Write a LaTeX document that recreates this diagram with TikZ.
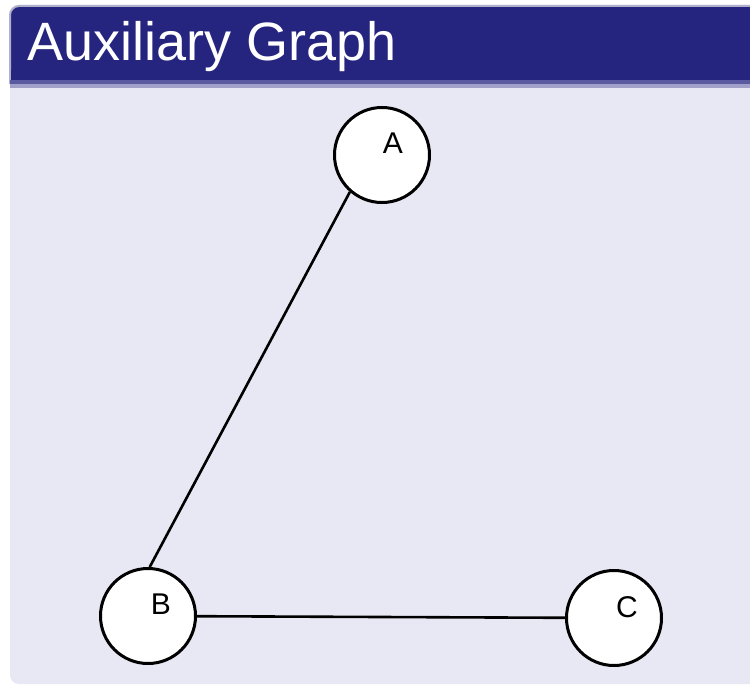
\documentclass[tikz,border=0pt]{standalone}
\usepackage{fontspec}
\setmainfont{Liberation Sans}
\definecolor{auxNavy}{HTML}{25257F}
\definecolor{auxRim}{HTML}{B0B0CC}
\definecolor{auxBandDark}{HTML}{5A5AA0}
\definecolor{auxBandLight}{HTML}{A0A0C8}
\definecolor{auxPale}{HTML}{E8E8F4}
\tikzset{
  aux panel/.style={fill=auxPale, rounded corners=9pt},
  aux bar/.style={fill=auxNavy, draw=auxRim, line width=2pt},
  aux title/.style={font=\fontsize{54}{60}\selectfont, text=white, inner sep=0pt, anchor=base west},
  aux vertex/.style={circle, draw=black, fill=white, line width=3pt, minimum size=95pt, inner sep=0pt},
  aux tag/.style={font=\fontsize{30}{32}\selectfont, text=black, inner sep=0pt},
  aux edge/.style={draw=black, line width=2.6pt},
}
\begin{document}
\begin{tikzpicture}[x=1pt, y=-1pt]
  \useasboundingbox (0,0) rectangle (750,685);
  \fill[white] (0,0) rectangle (750,685);
  % Panel and title bar
  \path[aux panel] (10,5) rectangle (760,684);
  \begin{scope}
    \clip (0,0) rectangle (750,685);
    \path[aux bar] [rounded corners=9pt] (10,84) -- (10,6) -- (760,6) -- (760,84);
    \fill[auxNavy] (11,70) rectangle (750,80);
  \end{scope}
  \fill[auxBandDark] (10,80) rectangle (750,84);
  \fill[auxBandLight] (10,84) rectangle (750,88);
  \node[aux title] (title) at (27,60) {Auxiliary Graph};
  % Vertices
  \node[aux vertex, label={[aux tag, xshift=11pt, yshift=12pt]center:A}] (A) at (382,155) {};
  \node[aux vertex, label={[aux tag, xshift=13pt, yshift=12pt]center:B}] (B) at (148,616) {};
  \node[aux vertex, label={[aux tag, xshift=13pt, yshift=11pt]center:C}] (C) at (614,618) {};
  % Edges
  \draw[aux edge] (A.229) -- (B.88);
  \draw[aux edge] (B) -- (C);
\end{tikzpicture}
\end{document}
